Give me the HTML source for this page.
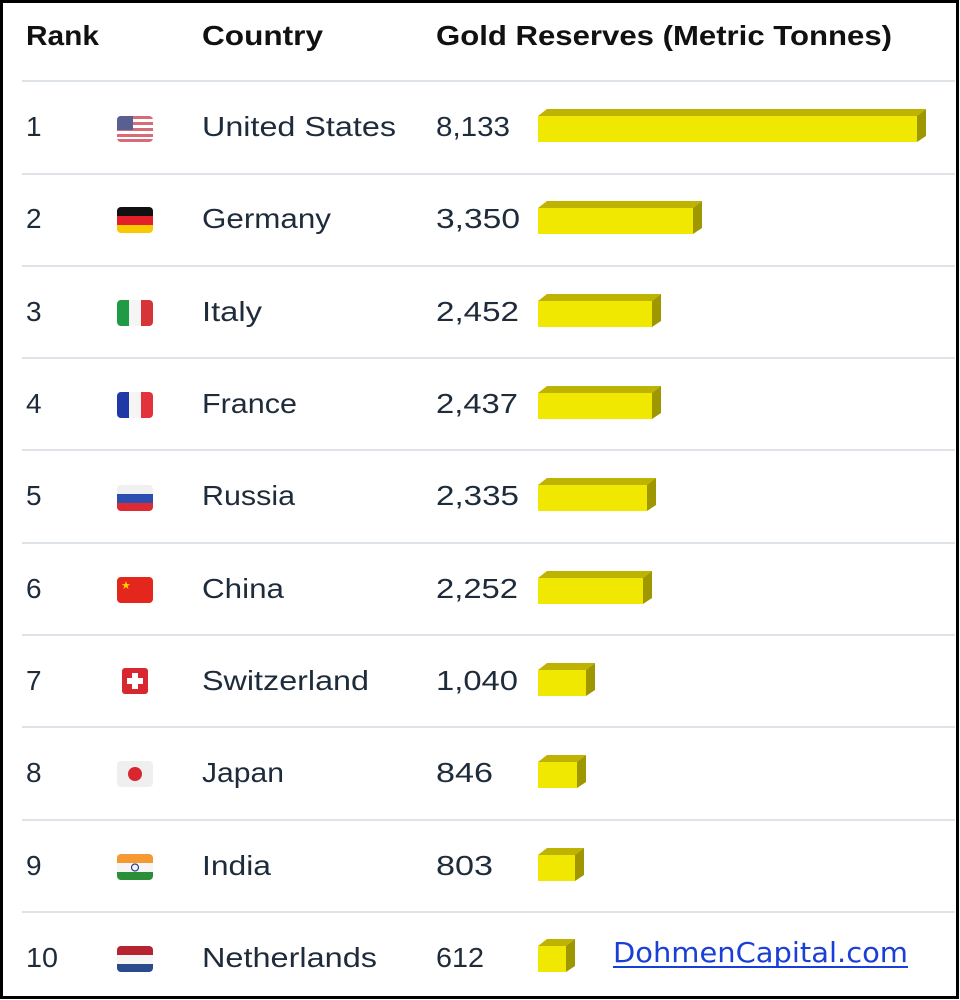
<!DOCTYPE html>
<html><head><meta charset="utf-8"><style>
html,body{margin:0;padding:0;background:#fff}
svg{display:block}
text{font-family:"Liberation Sans",sans-serif;fill:#1e2b3a}
</style></head><body>
<svg width="960" height="1000" viewBox="0 0 960 1000" xmlns="http://www.w3.org/2000/svg">
<rect x="1.5" y="1.5" width="956" height="996" fill="#fff" stroke="#000" stroke-width="3"/>
<g font-size="28" font-weight="bold" lengthAdjust="spacingAndGlyphs">
<text x="26" y="45" style="fill:#111" textLength="73" lengthAdjust="spacingAndGlyphs">Rank</text>
<text x="202" y="45" style="fill:#111" textLength="121" lengthAdjust="spacingAndGlyphs">Country</text>
<text x="436" y="45" style="fill:#111" textLength="456" lengthAdjust="spacingAndGlyphs">Gold Reserves (Metric Tonnes)</text>
</g>
<g stroke="#dde3e8" stroke-width="2">
<line x1="22" x2="955" y1="81" y2="81"/><line x1="22" x2="955" y1="174" y2="174"/><line x1="22" x2="955" y1="266" y2="266"/>
<line x1="22" x2="955" y1="358" y2="358"/><line x1="22" x2="955" y1="450" y2="450"/><line x1="22" x2="955" y1="543" y2="543"/>
<line x1="22" x2="955" y1="635" y2="635"/><line x1="22" x2="955" y1="727" y2="727"/><line x1="22" x2="955" y1="820" y2="820"/>
<line x1="22" x2="955" y1="912" y2="912"/>
</g>
<g font-size="28">
<text x="26" y="136">1</text><text x="202" y="136" textLength="194" lengthAdjust="spacingAndGlyphs">United States</text><text x="436" y="136" textLength="74" lengthAdjust="spacingAndGlyphs">8,133</text>
<text x="26" y="228">2</text><text x="202" y="228" textLength="129" lengthAdjust="spacingAndGlyphs">Germany</text><text x="436" y="228" textLength="84" lengthAdjust="spacingAndGlyphs">3,350</text>
<text x="26" y="321">3</text><text x="202" y="321" textLength="60" lengthAdjust="spacingAndGlyphs">Italy</text><text x="436" y="321" textLength="83" lengthAdjust="spacingAndGlyphs">2,452</text>
<text x="26" y="413">4</text><text x="202" y="413" textLength="95" lengthAdjust="spacingAndGlyphs">France</text><text x="436" y="413" textLength="82" lengthAdjust="spacingAndGlyphs">2,437</text>
<text x="26" y="505">5</text><text x="202" y="505" textLength="93" lengthAdjust="spacingAndGlyphs">Russia</text><text x="436" y="505" textLength="83" lengthAdjust="spacingAndGlyphs">2,335</text>
<text x="26" y="598">6</text><text x="202" y="598" textLength="82" lengthAdjust="spacingAndGlyphs">China</text><text x="436" y="598" textLength="82" lengthAdjust="spacingAndGlyphs">2,252</text>
<text x="26" y="690">7</text><text x="202" y="690" textLength="167" lengthAdjust="spacingAndGlyphs">Switzerland</text><text x="436" y="690" textLength="82" lengthAdjust="spacingAndGlyphs">1,040</text>
<text x="26" y="782">8</text><text x="202" y="782" textLength="82" lengthAdjust="spacingAndGlyphs">Japan</text><text x="436" y="782" textLength="57" lengthAdjust="spacingAndGlyphs">846</text>
<text x="26" y="875">9</text><text x="202" y="875" textLength="69" lengthAdjust="spacingAndGlyphs">India</text><text x="436" y="875" textLength="57" lengthAdjust="spacingAndGlyphs">803</text>
<text x="26" y="967" textLength="32" lengthAdjust="spacingAndGlyphs">10</text><text x="202" y="967" textLength="175" lengthAdjust="spacingAndGlyphs">Netherlands</text><text x="436" y="967" textLength="48" lengthAdjust="spacingAndGlyphs">612</text>
</g>
<defs><clipPath id="fc"><rect width="36" height="26" rx="4"/></clipPath></defs>
<g>
<g transform="translate(117,116)" clip-path="url(#fc)"><rect width="36" height="26" fill="#fff"/>
<rect y="0" width="36" height="3" fill="#d76b78"/><rect y="6" width="36" height="3" fill="#d76b78"/><rect y="12" width="36" height="3" fill="#d76b78"/><rect y="18" width="36" height="3" fill="#d76b78"/><rect y="23" width="36" height="3" fill="#d76b78"/>
<rect width="16" height="14" fill="#5a5f92"/></g>
<g transform="translate(117,207)" clip-path="url(#fc)"><rect width="36" height="9" fill="#111"/><rect y="9" width="36" height="9" fill="#e3202a"/><rect y="18" width="36" height="9" fill="#f9c900"/></g>
<g transform="translate(117,300)" clip-path="url(#fc)"><rect width="12" height="26" fill="#229a45"/><rect x="12" width="12" height="26" fill="#f5f5f5"/><rect x="24" width="12" height="26" fill="#d7343a"/></g>
<g transform="translate(117,392)" clip-path="url(#fc)"><rect width="12" height="26" fill="#1f3aa6"/><rect x="12" width="12" height="26" fill="#f5f5f5"/><rect x="24" width="12" height="26" fill="#e2333d"/></g>
<g transform="translate(117,485)" clip-path="url(#fc)"><rect width="36" height="9" fill="#f0f0f0"/><rect y="9" width="36" height="9" fill="#2a4fb0"/><rect y="18" width="36" height="9" fill="#dd2a33"/></g>
<g transform="translate(117,577)" clip-path="url(#fc)"><rect width="36" height="26" fill="#e5261c"/><text x="4" y="12" font-size="11" style="fill:#ffd000">★</text></g>
<g transform="translate(122,668)"><rect width="26" height="26" rx="3" fill="#d8282f"/><rect x="10" y="5" width="6" height="16" fill="#fff"/><rect x="5" y="10" width="16" height="6" fill="#fff"/></g>
<g transform="translate(117,761)" clip-path="url(#fc)"><rect width="36" height="26" fill="#efefef"/><circle cx="18" cy="13" r="7" fill="#d8262f"/></g>
<g transform="translate(117,854)" clip-path="url(#fc)"><rect width="36" height="9" fill="#f59a32"/><rect y="9" width="36" height="9" fill="#f5f5f5"/><rect y="18" width="36" height="9" fill="#2b8f3a"/><circle cx="18" cy="13.5" r="3.5" fill="none" stroke="#2a3f8f" stroke-width="1.2"/></g>
<g transform="translate(117,946)" clip-path="url(#fc)"><rect width="36" height="9" fill="#b52430"/><rect y="9" width="36" height="9" fill="#f5f5f5"/><rect y="18" width="36" height="9" fill="#2b4a8c"/></g>
</g>
<g>
<g transform="translate(538,116)"><polygon points="0,0 9,-7 388,-7 379,0" fill="#bdb300"/><polygon points="379,0 388,-7 388,20 379,26" fill="#9f9700"/><rect width="379" height="26" fill="#f0e800"/></g>
<g transform="translate(538,208)"><polygon points="0,0 9,-7 164,-7 155,0" fill="#bdb300"/><polygon points="155,0 164,-7 164,20 155,26" fill="#9f9700"/><rect width="155" height="26" fill="#f0e800"/></g>
<g transform="translate(538,301)"><polygon points="0,0 9,-7 123,-7 114,0" fill="#bdb300"/><polygon points="114,0 123,-7 123,20 114,26" fill="#9f9700"/><rect width="114" height="26" fill="#f0e800"/></g>
<g transform="translate(538,393)"><polygon points="0,0 9,-7 123,-7 114,0" fill="#bdb300"/><polygon points="114,0 123,-7 123,20 114,26" fill="#9f9700"/><rect width="114" height="26" fill="#f0e800"/></g>
<g transform="translate(538,485)"><polygon points="0,0 9,-7 118,-7 109,0" fill="#bdb300"/><polygon points="109,0 118,-7 118,20 109,26" fill="#9f9700"/><rect width="109" height="26" fill="#f0e800"/></g>
<g transform="translate(538,578)"><polygon points="0,0 9,-7 114,-7 105,0" fill="#bdb300"/><polygon points="105,0 114,-7 114,20 105,26" fill="#9f9700"/><rect width="105" height="26" fill="#f0e800"/></g>
<g transform="translate(538,670)"><polygon points="0,0 9,-7 57,-7 48,0" fill="#bdb300"/><polygon points="48,0 57,-7 57,20 48,26" fill="#9f9700"/><rect width="48" height="26" fill="#f0e800"/></g>
<g transform="translate(538,762)"><polygon points="0,0 9,-7 48,-7 39,0" fill="#bdb300"/><polygon points="39,0 48,-7 48,20 39,26" fill="#9f9700"/><rect width="39" height="26" fill="#f0e800"/></g>
<g transform="translate(538,855)"><polygon points="0,0 9,-7 46,-7 37,0" fill="#bdb300"/><polygon points="37,0 46,-7 46,20 37,26" fill="#9f9700"/><rect width="37" height="26" fill="#f0e800"/></g>
<g transform="translate(538,946)"><polygon points="0,0 9,-7 37,-7 28,0" fill="#bdb300"/><polygon points="28,0 37,-7 37,20 28,26" fill="#9f9700"/><rect width="28" height="26" fill="#f0e800"/></g>
</g>
<text x="613" y="962" font-size="28" style="font-family:'DejaVu Sans',sans-serif;fill:#1a3fd6" textLength="295" lengthAdjust="spacingAndGlyphs">DohmenCapital.com</text>
<rect x="613" y="966" width="295" height="2" fill="#1a3fd6"/>
</svg>
</body></html>
